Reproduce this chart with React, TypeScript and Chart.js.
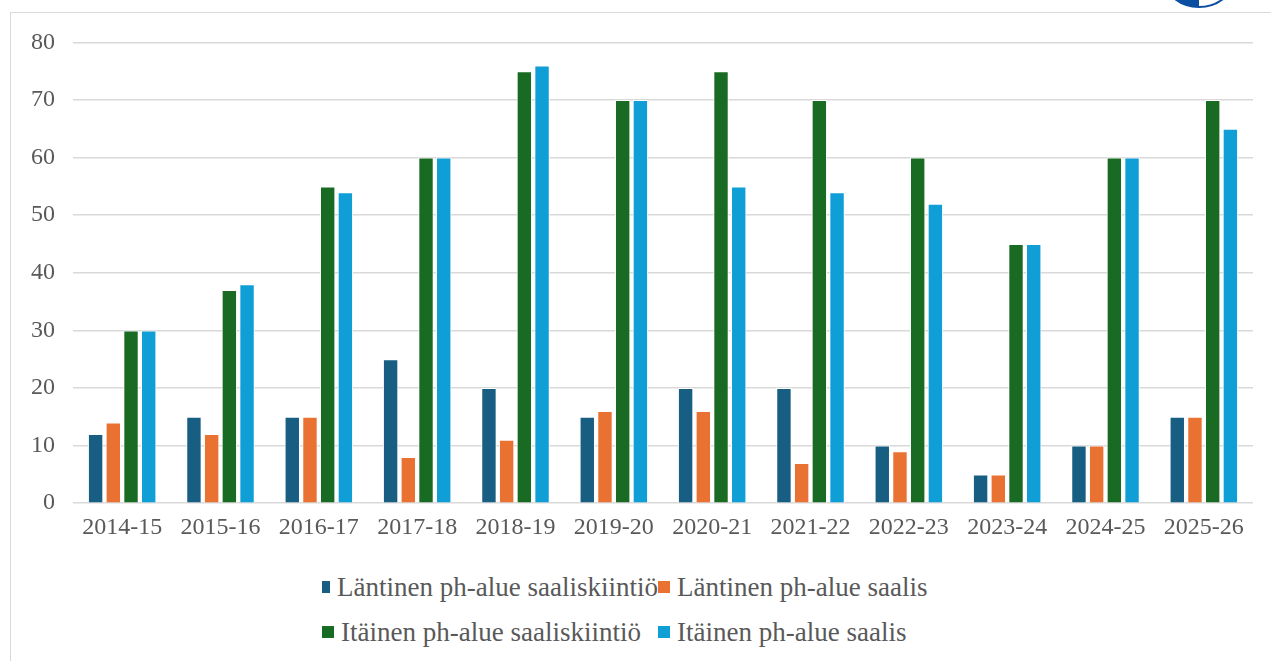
import React, { useEffect, useRef } from "react";
import { Chart, registerables } from "chart.js";

Chart.register(...registerables);

const seasons = [
  "2014-15", "2015-16", "2016-17", "2017-18", "2018-19", "2019-20",
  "2020-21", "2021-22", "2022-23", "2023-24", "2024-25", "2025-26",
];
const lantinenKiintio = [12, 15, 15, 25, 20, 15, 20, 20, 10, 5, 10, 15];
const lantinenSaalis = [14, 12, 15, 8, 11, 16, 16, 7, 9, 5, 10, 15];
const itainenKiintio = [30, 37, 55, 60, 75, 70, 75, 70, 60, 45, 60, 70];
const itainenSaalis = [30, 38, 54, 60, 76, 70, 55, 54, 52, 45, 60, 65];

const seriesNames = [
  "Läntinen ph-alue saaliskiintiö",
  "Läntinen ph-alue saalis",
  "Itäinen ph-alue saaliskiintiö",
  "Itäinen ph-alue saalis",
];
const seriesColors = ["#175E82", "#E97132", "#196B24", "#0F9ED5"];
const seriesValues = [lantinenKiintio, lantinenSaalis, itainenKiintio, itainenSaalis];

const FONT = "'Times New Roman', 'Liberation Serif', Tinos, 'DejaVu Serif', serif";

export default function App() {
  const canvasRef = useRef<HTMLCanvasElement | null>(null);

  useEffect(() => {
    if (!canvasRef.current) return;
    const chart = new Chart(canvasRef.current, {
      type: "bar",
      data: {
        labels: seasons,
        datasets: seriesValues.map((vals, i) => ({
          label: seriesNames[i],
          data: vals,
          backgroundColor: seriesColors[i],
          borderColor: "#ffffff",
          borderWidth: 1,
          categoryPercentage: 0.72,
          barPercentage: 0.87,
        })),
      },
      options: {
        responsive: true,
        maintainAspectRatio: false,
        animation: false,
        layout: { padding: { top: 14, left: 3, right: 12, bottom: 0 } },
        plugins: {
          legend: { display: false },
          tooltip: { enabled: false },
        },
        scales: {
          x: {
            grid: { display: false, drawTicks: false },
            border: { display: false },
            ticks: {
              color: "#595959",
              font: { family: FONT, size: 24 },
              padding: 10,
              maxRotation: 0,
              autoSkip: false,
            },
          },
          y: {
            min: 0,
            max: 80,
            grid: { color: "#d9d9d9", lineWidth: 1.5, drawTicks: false },
            border: { display: false },
            ticks: {
              stepSize: 10,
              color: "#595959",
              font: { family: FONT, size: 24 },
              padding: 18,
            },
          },
        },
      },
    });
    return () => chart.destroy();
  }, []);

  return (
    <div style={{ position: "absolute", left: 0, top: 0, width: 1271, height: 661, overflow: "hidden", background: "#fff" }}>
      <div
        style={{
          position: "absolute",
          left: 1158,
          top: -74,
          width: 78,
          height: 78,
          borderRadius: "50%",
          border: "2px solid #0B4EA2",
          background: "linear-gradient(90deg, #0B4EA2 50%, #ffffff 50%)",
        }}
      />
      <div
        style={{
          position: "absolute",
          left: 10,
          top: 12,
          width: 1270,
          height: 660,
          borderLeft: "1.5px solid #d9d9d9",
          borderTop: "1.5px solid #d9d9d9",
        }}
      />
      <div style={{ position: "absolute", left: 10, top: 10, width: 1255, height: 542 }}>
        <canvas ref={canvasRef} />
      </div>
      <div
        style={{
          position: "absolute",
          left: 322,
          top: 568,
          display: "grid",
          gridTemplateColumns: "336px 300px",
          rowGap: 7,
          fontFamily: FONT,
          fontSize: 27,
          color: "#595959",
          lineHeight: "38px",
        }}
      >
        {seriesNames.map((name, i) => (
          <div key={name} style={{ display: "flex", alignItems: "center", whiteSpace: "nowrap" }}>
            <span
              style={{
                display: "inline-block",
                width: 12,
                height: 12,
                background: seriesColors[i],
                marginRight: 7,
              }}
            />
            <span>{name}</span>
          </div>
        ))}
      </div>
    </div>
  );
}
